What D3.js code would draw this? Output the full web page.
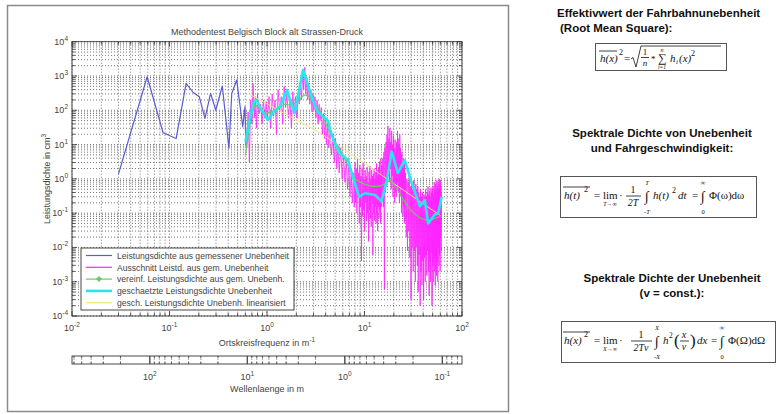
<!DOCTYPE html>
<html>
<head>
<meta charset="utf-8">
<script src="https://cdn.jsdelivr.net/npm/d3@7"></script>
<style>
  body { margin: 0; background: #fff; }
  svg { display: block; font-family: Arial, "Liberation Sans", sans-serif; }
</style>
</head>
<body>
<svg width="779" height="414"></svg>
<script>
// --- data ---
var freqBlue = [0.030, 0.059, 0.086, 0.117, 0.148, 0.175, 0.202, 0.231, 0.264, 0.298, 0.348, 0.407, 0.435, 0.489, 0.564, 0.594, 0.61];
var psdBlue = [1.4, 950, 22, 15, 610, 330, 250, 58, 310, 100, 510, 7.8, 310, 760, 33, 127, 8.5];

var freqMag = [0.60, 0.62, 0.64, 0.66, 0.68, 0.70, 0.72, 0.74, 0.76, 0.78, 0.80, 0.83, 0.86, 0.89, 0.92, 0.95, 0.98,
  1.01, 1.05, 1.09, 1.13, 1.17, 1.21, 1.25, 1.30, 1.35, 1.40, 1.45, 1.50, 1.55, 1.60, 1.66, 1.72, 1.78, 1.84, 1.90, 1.96,
  2.02, 2.08, 2.14, 2.20, 2.26, 2.32, 2.38, 2.44, 2.50, 2.56, 2.62, 2.68, 2.75, 2.82, 2.89, 2.96, 3.03, 3.10, 3.18, 3.26, 3.34, 3.42,
  3.5, 3.6, 3.7, 3.8, 3.9, 4.0, 4.1, 4.2, 4.3, 4.45, 4.6, 4.75, 4.9, 5.05, 5.2, 5.35, 5.5, 5.7, 5.9, 6.1, 6.3, 6.5, 6.7, 6.9, 7.1, 7.3, 7.5, 7.7, 7.85,
  8.0, 8.12, 8.24, 8.36, 8.48, 8.6, 8.72, 8.84, 8.96, 9.08, 9.2, 9.32, 9.44, 9.56, 9.68, 9.8, 9.92, 10.04, 10.16, 10.28,
  10.4, 10.52, 10.64, 10.76, 10.88, 11.0, 11.12, 11.24, 11.36, 11.48, 11.6, 11.72, 11.84, 11.96, 12.08, 12.2, 12.32, 12.44, 12.56, 12.68,
  12.8, 12.92, 13.04, 13.16, 13.28, 13.4, 13.52, 13.64, 13.76, 13.88, 14.0, 14.12, 14.24, 14.36, 14.48, 14.6, 14.72, 14.84,
  15.0, 15.2, 15.4, 15.6, 15.8, 16.0, 16.2, 16.4, 16.6, 16.8, 17.0, 17.2, 17.4, 17.6, 17.8, 18.0, 18.2, 18.4, 18.6, 18.8,
  19.0, 19.2, 19.4, 19.6, 19.8, 20.0, 20.2, 20.4, 20.6, 20.8, 21.0, 21.2, 21.4, 21.6, 21.8, 22.0, 22.2, 22.4, 22.6, 22.8,
  23.0, 23.2, 23.4, 23.6, 23.8, 24.0, 24.2, 24.4, 24.6, 24.8, 25.0, 25.2, 25.4, 25.6, 25.8,
  26.0, 26.4, 26.8, 27.2, 27.6, 28.0, 28.4, 28.8, 29.2, 29.6, 30.0, 30.4, 30.8, 31.2, 31.6, 32.0, 32.4, 32.8, 33.2, 33.6,
  34.0, 34.4, 34.8, 35.2, 35.6, 36.0, 36.4, 36.8, 37.2, 37.6, 38.0, 38.4, 38.8, 39.2, 39.6, 40.0, 40.4, 40.8, 41.2, 41.6,
  42.0, 42.4, 42.8, 43.2, 43.6, 44.0, 44.4, 44.8, 45.2, 45.6, 46.0, 46.4, 46.8, 47.2, 47.6, 48.0, 48.4, 48.8, 49.2, 49.6,
  50.0, 50.4, 50.8, 51.2, 51.6, 52.0, 52.4, 52.8, 53.2, 53.6, 54.0, 54.4, 54.8, 55.2, 55.6, 56.0, 56.4, 56.8, 57.2, 57.6,
  58.0, 58.4, 58.8, 59.2, 59.6, 60.0, 60.4, 60.8, 61.2, 61.6];
var psdMag = [30, 8, 90, 3, 200, 40, 600, 60, 250, 30, 300, 80, 150, 40, 200, 60, 180,
  50, 250, 30, 300, 70, 200, 20, 400, 90, 250, 40, 500, 120, 300, 60, 200, 30, 350, 80, 250,
  60, 300, 150, 700, 200, 1200, 400, 1800, 300, 900, 200, 600, 150, 400, 90, 300, 100, 250, 60, 200, 40, 150,
  50, 120, 20, 80, 15, 60, 10, 40, 8, 30, 5, 20, 3, 15, 2, 10, 1.5, 8, 1, 5, 0.8, 4, 0.5, 3, 0.3, 2, 0.2, 1.5, 0.15,
  3, 0.2, 2, 0.1, 4, 0.3, 1.5, 0.05, 2.5, 0.15, 1.2, 0.004, 2, 0.08, 3, 0.12, 1.0, 0.03, 1.8, 0.2,
  1.2, 0.06, 2.2, 0.1, 0.8, 0.015, 1.6, 0.12, 2.4, 0.07, 1.0, 0.04, 1.8, 0.2, 1.2, 0.006, 1.4, 0.1, 2.0, 0.06,
  1.0, 0.15, 1.6, 0.05, 2.8, 0.09, 1.2, 0.03, 1.8, 0.15, 2.2, 0.07, 3.2, 0.12, 1.4, 0.05, 4.0, 0.15,
  2.5, 0.3, 4, 0.15, 6, 0.0006, 8, 0.4, 12, 0.6, 20, 1, 35, 1.5, 15, 0.8, 30, 2, 12, 0.5,
  25, 1.2, 10, 0.3, 18, 0.6, 8, 0.2, 14, 0.4, 6, 0.3, 12, 0.5, 25, 0.8, 15, 0.4, 10, 0.2,
  20, 0.6, 8, 0.3, 5, 0.1, 6, 0.25, 3, 0.08, 4, 0.15, 2, 0.05, 3,
  0.06, 1.5, 0.02, 1.0, 0.008, 0.8, 0.03, 1.2, 0.005, 0.6, 0.0003, 0.8, 0.01, 0.5, 0.002, 0.9, 0.008, 0.4, 0.001, 0.7,
  0.01, 0.5, 0.003, 0.6, 0.0005, 0.4, 0.006, 0.3, 0.0002, 0.5, 0.002, 0.3, 0.0008, 0.4, 0.004, 0.25, 0.0003, 0.35, 0.005, 0.3,
  0.001, 0.5, 0.006, 0.3, 0.0015, 0.4, 0.008, 0.6, 0.002, 0.35, 0.0004, 0.45, 0.004, 0.3, 0.001, 0.55, 0.007, 0.4, 0.0002, 0.5,
  0.003, 0.6, 0.001, 0.35, 0.005, 0.8, 0.002, 0.5, 0.0008, 0.7, 0.006, 0.45, 0.0015, 0.9, 0.004, 0.6, 0.001, 0.8, 0.01, 0.5,
  0.003, 1.0, 0.006, 0.7, 0.002, 0.9, 0.02, 0.6, 0.008, 0.4];

var freqGreen = [0.60, 0.68, 0.75, 0.85, 0.95, 1.1, 1.3, 1.5, 1.8, 2.1, 2.4, 2.7, 3.1, 3.6, 4.2, 5.0, 6.0, 7.0, 8.0, 9.0, 10, 12, 14, 16, 18, 20, 22, 25, 28, 32, 38, 45, 52, 60];
var psdGreen = [5, 60, 150, 110, 80, 90, 110, 150, 140, 200, 280, 260, 150, 80, 30, 12, 5, 2, 1, 0.8, 0.7, 0.6, 0.6, 0.7, 0.9, 0.7, 0.45, 0.25, 0.15, 0.1, 0.07, 0.06, 0.07, 0.08];

var freqCyan = [0.60, 0.72, 0.78, 0.88, 1.02, 1.21, 1.36, 1.6, 1.92, 2.34, 2.65, 2.9, 3.3, 3.7, 4.2, 4.6, 5.1, 5.6, 6.8, 7.5, 8.8, 10.1, 12.8, 14.9, 17.0, 19.0, 22.0, 25.9, 30.5, 37, 41.6, 45, 52.5, 57, 62];
var psdCyan = [12, 160, 200, 100, 52, 102, 127, 390, 82, 1500, 500, 224, 90, 70, 50, 20, 9, 5.6, 3.5, 1.3, 0.3, 0.38, 0.34, 0.22, 0.93, 6.2, 1.5, 3.5, 0.75, 0.16, 0.24, 0.05, 0.09, 0.1, 0.3];

var freqYellow = [0.65, 3.5, 60];
var psdYellow = [300, 22, 0.085];

var seriesNames = ["Leistungsdichte aus gemessener Unebenheit", "Ausschnitt Leistd. aus gem. Unebenheit",
  "vereinf. Leistungsdichte aus gem. Unebenh.", "geschaetzte Leistungsdichte Unebenheit", "gesch. Leistungsdichte Unebenh. linearisiert"];
var seriesColors = ["#5b5bd6", "#ff22ff", "#66cc66", "#22e8f0", "#f6e27a"];
var seriesWidths = [1.2, 0.8, 1.2, 2.6, 1];

var xExp = [-2, -1, 0, 1, 2];
var yExp = [-4, -3, -2, -1, 0, 1, 2, 3, 4];
var wlExp = [2, 1, 0, -1];

var svg = d3.select("svg");
var margin = { left: 72, right: 317, top: 41.7, bottom: 98 };
var width = 779 - margin.left - margin.right;
var height = 414 - margin.top - margin.bottom;

// outer frame of the left picture
svg.append("rect").attr("x", 7.5).attr("y", 5.5).attr("width", 501).attr("height", 406)
  .attr("fill", "#fff").attr("stroke", "#8a8a8a").attr("stroke-width", 1.5);

var x = d3.scaleLog().domain([0.01, 100]).range([0, width]);
var y = d3.scaleLog().domain([1e-4, 1e4]).range([height, 0]);
var wl = d3.scaleLog().domain([2 * Math.PI / 0.01, 2 * Math.PI / 100]).range([0, width]);

var g = svg.append("g").attr("transform", "translate(" + margin.left + "," + margin.top + ")");

function minorVals(lo, hi) {
  var out = [];
  for (var e = lo; e < hi; e++) for (var m = 1; m < 10; m++) out.push(m * Math.pow(10, e));
  out.push(Math.pow(10, hi));
  return out;
}
var xMinor = minorVals(-2, 2), yMinor = minorVals(-4, 4);

// dotted grid
g.append("g").selectAll("line").data(xMinor).enter().append("line")
  .attr("x1", function (d) { return x(d); }).attr("x2", function (d) { return x(d); })
  .attr("y1", 0).attr("y2", height)
  .attr("stroke", "#555").attr("stroke-width", 0.8).attr("stroke-dasharray", "1,2");
g.append("g").selectAll("line").data(yMinor).enter().append("line")
  .attr("y1", function (d) { return y(d); }).attr("y2", function (d) { return y(d); })
  .attr("x1", 0).attr("x2", width)
  .attr("stroke", "#555").attr("stroke-width", 0.8).attr("stroke-dasharray", "1,2");

// inner ticks on all sides
function isMajor(d) { return Math.abs(Math.log10(d) - Math.round(Math.log10(d))) < 1e-9; }
var tk = g.append("g").attr("stroke", "#333").attr("stroke-width", 0.8);
xMinor.forEach(function (d) {
  var L = isMajor(d) ? 5 : 3;
  tk.append("line").attr("x1", x(d)).attr("x2", x(d)).attr("y1", height).attr("y2", height - L);
  tk.append("line").attr("x1", x(d)).attr("x2", x(d)).attr("y1", 0).attr("y2", L);
});
yMinor.forEach(function (d) {
  var L = isMajor(d) ? 5 : 3;
  tk.append("line").attr("y1", y(d)).attr("y2", y(d)).attr("x1", 0).attr("x2", L);
  tk.append("line").attr("y1", y(d)).attr("y2", y(d)).attr("x1", width).attr("x2", width - L);
});

// series
var line = d3.line().x(function (d) { return x(d[0]); }).y(function (d) { return y(d[1]); });
var plot = g.append("g");
function addSeries(fr, ps, i) {
  plot.append("path").datum(d3.zip(fr, ps)).attr("fill", "none")
    .attr("stroke", seriesColors[i]).attr("stroke-width", seriesWidths[i])
    .attr("stroke-linejoin", "round").attr("d", line);
}
addSeries(freqBlue, psdBlue, 0);
addSeries(freqMag, psdMag, 1);
addSeries(freqYellow, psdYellow, 4);
addSeries(freqGreen, psdGreen, 2);
addSeries(freqCyan, psdCyan, 3);

// box
g.append("rect").attr("width", width).attr("height", height).attr("fill", "none").attr("stroke", "#333").attr("stroke-width", 0.9);

// power-of-ten labels
function pow10(sel, e) {
  sel.append("tspan").text("10");
  sel.append("tspan").attr("dy", -4).attr("font-size", 6.5).text(e < 0 ? "-" + (-e) : e);
}
var labelColor = "#444";
xExp.forEach(function (e) {
  var t = g.append("text").attr("x", x(Math.pow(10, e))).attr("y", height + 15)
    .attr("text-anchor", "middle").attr("font-size", 9).attr("fill", labelColor);
  pow10(t, e);
});
yExp.forEach(function (e) {
  var t = g.append("text").attr("x", -4).attr("y", y(Math.pow(10, e)) + 3)
    .attr("text-anchor", "end").attr("font-size", 9).attr("fill", labelColor);
  pow10(t, e);
});

g.append("text").attr("x", width / 2).attr("y", -7).attr("text-anchor", "middle")
  .attr("font-size", 9).attr("fill", labelColor).text("Methodentest Belgisch Block alt Strassen-Druck");

var xl = g.append("text").attr("x", width / 2).attr("y", height + 30).attr("text-anchor", "middle")
  .attr("font-size", 9).attr("fill", labelColor);
xl.append("tspan").text("Ortskreisfrequenz in m");
xl.append("tspan").attr("dy", -4).attr("font-size", 6.5).text("-1");

var yl = g.append("text").attr("transform", "translate(-22," + (height / 2) + ") rotate(-90)")
  .attr("text-anchor", "middle").attr("font-size", 9).attr("fill", labelColor);
yl.append("tspan").text("Leistungsdichte in cm");
yl.append("tspan").attr("dy", -4).attr("font-size", 6.5).text("3");

// legend
var lg = g.append("g").attr("transform", "translate(" + (81 - margin.left) + "," + (248 - margin.top) + ")");
lg.append("rect").attr("width", 213).attr("height", 62).attr("fill", "#fff").attr("stroke", "#333").attr("stroke-width", 0.9);
seriesNames.forEach(function (n, i) {
  var yy = 7.5 + i * 11.8;
  lg.append("line").attr("x1", 5).attr("x2", 31).attr("y1", yy).attr("y2", yy)
    .attr("stroke", seriesColors[i]).attr("stroke-width", i === 3 ? 2.6 : 1.2);
  if (i === 2) {
    lg.append("path").attr("d", "M18," + (yy - 3) + "L21," + yy + "L18," + (yy + 3) + "L15," + yy + "Z")
      .attr("fill", seriesColors[i]);
  }
  lg.append("text").attr("x", 36).attr("y", yy + 3.2).attr("font-size", 8.6).attr("fill", labelColor).text(n);
});

// wavelength axis
var wg = svg.append("g").attr("transform", "translate(" + margin.left + ",356)");
var wlTicks = [];
[3, 2, 1, 0, -1].forEach(function (e) {
  for (var m = 1; m < 10; m++) {
    var v = m * Math.pow(10, e - 1);
    if (v <= 2 * Math.PI / 0.01 && v >= 2 * Math.PI / 100) wlTicks.push(v);
  }
});
wlTicks.forEach(function (d) {
  var L = isMajor(d) ? 8 : 2.5;
  wg.append("line").attr("x1", wl(d)).attr("x2", wl(d)).attr("y1", 0).attr("y2", L).attr("stroke", "#333").attr("stroke-width", 0.8);
  wg.append("line").attr("x1", wl(d)).attr("x2", wl(d)).attr("y1", 8).attr("y2", 8 - L).attr("stroke", "#333").attr("stroke-width", 0.8);
  wg.append("line").attr("x1", wl(d)).attr("x2", wl(d)).attr("y1", 0).attr("y2", 8)
    .attr("stroke", "#666").attr("stroke-width", 0.6).attr("stroke-dasharray", "1,2");
});
wg.append("rect").attr("width", width).attr("height", 8).attr("fill", "none").attr("stroke", "#333").attr("stroke-width", 0.9);
wlExp.forEach(function (e) {
  var t = wg.append("text").attr("x", wl(Math.pow(10, e))).attr("y", 24)
    .attr("text-anchor", "middle").attr("font-size", 9).attr("fill", labelColor);
  pow10(t, e);
});
wg.append("text").attr("x", width / 2).attr("y", 36).attr("text-anchor", "middle")
  .attr("font-size", 9).attr("fill", labelColor).text("Wellenlaenge in m");

// --- right panel: headings and formulas ---
var rp = svg.append("g").attr("fill", "#111");
function head(txt, xx, yy, anchor) {
  rp.append("text").attr("x", xx).attr("y", yy).attr("text-anchor", anchor || "start")
    .attr("font-size", 11.5).attr("font-weight", "bold").text(txt);
}
head("Effektivwert der Fahrbahnunebenheit", 557, 17);
head("(Root Mean Square):", 560, 32);
head("Spektrale Dichte von Unebenheit", 662, 137, "middle");
head("und Fahrgeschwindigkeit:", 662, 152, "middle");
head("Spektrale Dichte der Unebenheit", 672, 282, "middle");
head("(v = const.):", 672, 297, "middle");

var serif = "'Liberation Serif', 'Times New Roman', serif";
function t(par, xx, yy, s, size, italic, anchor) {
  return par.append("text").attr("x", xx).attr("y", yy).attr("font-family", serif)
    .attr("font-size", size || 11).attr("font-style", italic ? "italic" : "normal")
    .attr("text-anchor", anchor || "start").text(s);
}
function hline(par, x1, x2, yy) {
  par.append("line").attr("x1", x1).attr("x2", x2).attr("y1", yy).attr("y2", yy).attr("stroke", "#111").attr("stroke-width", 0.8);
}
function box(par, x0, y0, w, h) {
  par.append("rect").attr("x", x0).attr("y", y0).attr("width", w).attr("height", h)
    .attr("fill", "#fff").attr("stroke", "#555").attr("stroke-width", 1);
}

// formula 1
var f1 = rp.append("g");
box(f1, 595.5, 43.5, 131, 27);
t(f1, 600, 62, "h(x)", 11, true);
hline(f1, 599, 617, 51);
t(f1, 619, 55, "2", 8);
t(f1, 624, 62, "=");
f1.append("path").attr("d", "M631,59 L633,57.5 L636,67 L641,46 L721,46").attr("fill", "none").attr("stroke", "#111").attr("stroke-width", 0.8);
t(f1, 645, 55, "1", 9, false, "middle");
hline(f1, 641, 649, 57.5);
t(f1, 645, 66, "n", 9, true, "middle");
t(f1, 651, 62, "*", 9);
t(f1, 662, 62, "\u2211", 12, false, "middle");
t(f1, 662, 51.5, "n", 6, true, "middle");
t(f1, 662, 68.5, "i=1", 5.5, true, "middle");
t(f1, 670, 62, "h", 11, true);
t(f1, 676, 64, "i", 7, true);
t(f1, 679, 62, "(x)", 11, true);
t(f1, 691, 56, "2", 8);

// formula 2
var f2 = rp.append("g");
box(f2, 560.5, 176.5, 196, 41);
t(f2, 564, 199, "h(t)", 11, true);
t(f2, 584, 192, "2", 8);
hline(f2, 563, 590, 187);
t(f2, 594, 199, "=");
t(f2, 603, 199, "lim", 11, false);
t(f2, 619, 199, "\u00b7", 11);
t(f2, 610, 206, "T\u2192\u221e", 6, true, "middle");
t(f2, 633, 193, "1", 10, false, "middle");
hline(f2, 626, 641, 196);
t(f2, 633, 206, "2T", 10, true, "middle");
t(f2, 647, 201, "\u222b", 14, false, "middle");
t(f2, 647, 185, "T", 6.5, true, "middle");
t(f2, 647, 214, "-T", 6.5, true, "middle");
t(f2, 653, 199, "h(t)", 11, true);
t(f2, 672, 193, "2", 8);
t(f2, 678, 199, "dt", 11, true);
t(f2, 692, 199, "=");
t(f2, 703, 201, "\u222b", 14, false, "middle");
t(f2, 703, 185, "\u221e", 7, false, "middle");
t(f2, 703, 214, "0", 6.5, false, "middle");
t(f2, 709, 199, "\u03a6(\u03c9)d\u03c9", 11);

// formula 3
var f3 = rp.append("g");
box(f3, 561.5, 321.5, 214, 41);
t(f3, 564, 344, "h(x)", 11, true);
t(f3, 584, 337, "2", 8);
hline(f3, 563, 590, 332);
t(f3, 594, 344, "=");
t(f3, 603, 344, "lim", 11, false);
t(f3, 619, 344, "\u00b7", 11);
t(f3, 610, 351, "X\u2192\u221e", 6, true, "middle");
t(f3, 641, 338, "1", 10, false, "middle");
hline(f3, 631, 652, 341);
t(f3, 641, 351, "2Tv", 10, true, "middle");
t(f3, 657, 346, "\u222b", 14, false, "middle");
t(f3, 657, 330, "X", 6.5, true, "middle");
t(f3, 657, 359, "-X", 6.5, true, "middle");
t(f3, 663, 344, "h", 11, true);
t(f3, 669, 338, "2", 7.5);
t(f3, 674, 346, "(", 17);
t(f3, 684, 338, "x", 10, true, "middle");
hline(f3, 680, 689, 341);
t(f3, 684, 350, "v", 10, true, "middle");
t(f3, 690, 346, ")", 17);
t(f3, 697, 344, "dx", 11, true);
t(f3, 711, 344, "=");
t(f3, 722, 346, "\u222b", 14, false, "middle");
t(f3, 722, 330, "\u221e", 7, false, "middle");
t(f3, 722, 359, "0", 6.5, false, "middle");
t(f3, 728, 344, "\u03a6(\u03a9)d\u03a9", 11);
</script>
</body>
</html>
